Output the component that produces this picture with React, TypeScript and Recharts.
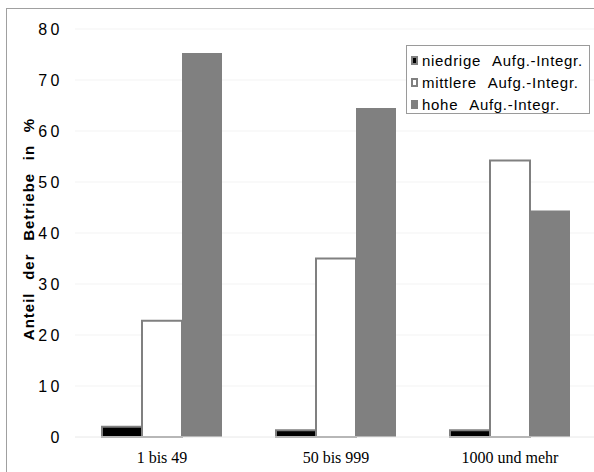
import { Bar, BarChart, CartesianGrid, Legend, XAxis, YAxis } from 'recharts'

const categories = ['1 bis 49', '50 bis 999', '1000 und mehr']
const niedrige = [2, 1.3, 1.3]
const mittlere = [22.8, 35, 54.2]
const hohe = [75.3, 64.5, 44.4]
const yTicks = [0, 10, 20, 30, 40, 50, 60, 70, 80]
const seriesNames = ['niedrige Aufg.-Integr.', 'mittlere Aufg.-Integr.', 'hohe Aufg.-Integr.']
const seriesFills = ['#000000', '#ffffff', '#808080']

const data = categories.map((name, i) => ({
  name,
  niedrige: niedrige[i],
  mittlere: mittlere[i],
  hohe: hohe[i]
}))

const sans = '"Liberation Sans", Arial, sans-serif'
const serif = '"Liberation Serif", "Times New Roman", serif'

const YTick = ({ x, y, payload }: any) => (
  <text
    x={x - 12}
    y={y}
    dy="0.35em"
    textAnchor="end"
    fill="#000"
    style={{ fontFamily: sans, fontSize: 16, letterSpacing: 3.5 }}
  >
    {payload.value}
  </text>
)

const XTick = ({ x, y, payload }: any) => (
  <text
    x={x}
    y={y + 26}
    textAnchor="middle"
    fill="#000"
    style={{ fontFamily: serif, fontSize: 16 }}
  >
    {payload.value}
  </text>
)

// keep the legend in series order (recharts sorts by name otherwise)
const LegendBox = () => (
  <div
    style={{
      boxSizing: 'border-box',
      width: 184,
      height: 69,
      border: '1px solid #9a9a9a',
      background: '#fff',
      padding: '3px 0 0 4px',
      fontFamily: sans,
      fontSize: 15,
      letterSpacing: 0.7,
      wordSpacing: 7,
      color: '#000'
    }}
  >
    {seriesNames.map((name, i) => (
      <div key={name} style={{ height: 22, display: 'flex', alignItems: 'center', whiteSpace: 'nowrap' }}>
        <span
          style={{
            display: 'inline-block',
            boxSizing: 'border-box',
            width: 7,
            height: 9,
            border: '2px solid #808080',
            background: seriesFills[i],
            marginRight: 4
          }}
        />
        {name}
      </div>
    ))}
  </div>
)

export default function App() {
  return (
    <div style={{ position: 'absolute', left: 0, top: 0, width: 594, height: 472, overflow: 'hidden', background: '#fff' }}>
      <div
        style={{
          position: 'absolute',
          left: 6,
          top: 8,
          width: 700,
          height: 600,
          borderLeft: '1px solid #a0a0a0',
          borderTop: '1px solid #a0a0a0'
        }}
      />
      <div style={{ position: 'absolute', left: 0, top: 0 }}>
        <BarChart
          width={600}
          height={472}
          data={data}
          margin={{ top: 29, right: 3, bottom: 5, left: 0 }}
          barCategoryGap={27}
          barGap={0}
        >
          <CartesianGrid vertical={false} stroke="#f3f3f3" />
          <XAxis
            dataKey="name"
            height={30}
            axisLine={{ stroke: '#eeeeee' }}
            tickLine={false}
            tickSize={0}
            tickMargin={0}
            tick={<XTick />}
          />
          <YAxis
            width={75}
            domain={[0, 80]}
            ticks={yTicks}
            axisLine={false}
            tickLine={false}
            tickSize={0}
            tickMargin={0}
            tick={<YTick />}
          />
          <Legend
            layout="horizontal"
            verticalAlign="middle"
            align="center"
            wrapperStyle={{ position: 'absolute', left: 406, top: 45, width: 184 }}
            content={<LegendBox />}
          />
          <Bar dataKey="niedrige" name={seriesNames[0]} fill={seriesFills[0]} stroke="#808080" strokeWidth={2} isAnimationActive={false} />
          <Bar dataKey="mittlere" name={seriesNames[1]} fill={seriesFills[1]} stroke="#808080" strokeWidth={2} isAnimationActive={false} />
          <Bar dataKey="hohe" name={seriesNames[2]} fill={seriesFills[2]} isAnimationActive={false} />
        </BarChart>
      </div>
      <div
        style={{
          position: 'absolute',
          left: 28,
          top: 229,
          transform: 'translate(-50%, -50%) rotate(-90deg)',
          whiteSpace: 'nowrap',
          fontFamily: sans,
          fontWeight: 'bold',
          fontSize: 15,
          letterSpacing: 1,
          wordSpacing: 7.5,
          color: '#000'
        }}
      >
        Anteil der Betriebe in %
      </div>
    </div>
  )
}
